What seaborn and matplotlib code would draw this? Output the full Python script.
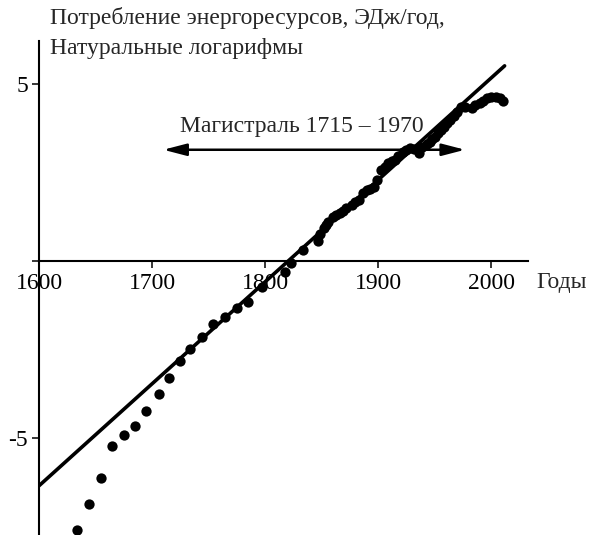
import matplotlib
matplotlib.use("Agg")
import matplotlib.pyplot as plt
import matplotlib.transforms as mtransforms
import pandas as pd
import seaborn as sns

# Données (log naturel de la consommation, EJ/an)
years = [1634, 1644, 1655, 1665, 1675, 1685, 1695, 1706, 1715, 1725,
         1734, 1744, 1754, 1765, 1775, 1785, 1797, 1818, 1823, 1834,
         1847, 1849, 1852, 1854, 1856, 1860, 1863, 1866, 1869, 1872,
         1877, 1880, 1883, 1887, 1890, 1893, 1896, 1899, 1903, 1906,
         1909, 1912, 1915, 1918, 1922, 1925, 1928, 1932, 1936, 1939,
         1943, 1946, 1948, 1950, 1953, 1956, 1958, 1961, 1964, 1967,
         1970, 1973, 1977, 1983, 1986, 1990, 1993, 1996, 2000, 2004,
         2008, 2011]
log_energy = [-7.61, -6.87, -6.15, -5.25, -4.92, -4.67, -4.24, -3.77, -3.32, -2.83,
              -2.50, -2.16, -1.79, -1.60, -1.34, -1.16, -0.75, -0.31, -0.07, 0.30,
              0.54, 0.75, 0.92, 1.00, 1.10, 1.24, 1.28, 1.34, 1.40, 1.48,
              1.57, 1.65, 1.72, 1.90, 2.00, 2.03, 2.09, 2.28, 2.56, 2.65,
              2.75, 2.80, 2.84, 2.95, 3.08, 3.12, 3.18, 3.15, 3.03, 3.22,
              3.30, 3.36, 3.43, 3.50, 3.60, 3.69, 3.78, 3.88, 3.98, 4.07,
              4.20, 4.35, 4.33, 4.31, 4.38, 4.45, 4.52, 4.59, 4.63, 4.63,
              4.60, 4.52]

# Droite de tendance (magistrale)
trend_years = [1600, 2012]
trend_values = [-6.36, 5.5]

x_ticks = [1600, 1700, 1800, 1900, 2000]
y_ticks = [-5, 0, 5]
y_tick_labels = ["-5", "", "5"]

df = pd.DataFrame({"year": years, "value": log_energy})
df_trend = pd.DataFrame({"year": trend_years, "value": trend_values})

sns.set_style("white")
plt.rcParams["font.family"] = ["Liberation Serif", "DejaVu Serif"]

fig = plt.figure(figsize=(5.9, 5.35), dpi=100)
ax = fig.add_axes([39 / 590, 0.0, 489 / 590, 1 - 40.7 / 535])

# 1. droite et points
sns.lineplot(ax=ax, data=df_trend, x="year", y="value", color="black", linewidth=2.6)
sns.scatterplot(ax=ax, data=df, x="year", y="value", color="black", s=55,
                edgecolor="black", linewidth=0, zorder=3, clip_on=False)

# 2. axes
ax.set_xlim(1600, 2032.7)
ax.set_ylim(-7.75, 6.21)
ax.spines["top"].set_visible(False)
ax.spines["right"].set_visible(False)
ax.spines["bottom"].set_position(("data", 0))
for sp in ["left", "bottom"]:
    ax.spines[sp].set_linewidth(1.5)
    ax.spines[sp].set_color("black")
ax.set_xticks(x_ticks)
ax.set_xticklabels([str(t) for t in x_ticks])
ax.set_yticks(y_ticks)
ax.set_yticklabels(y_tick_labels)
ax.tick_params(axis="both", direction="out", length=5, width=1.1, colors="black",
               labelsize=17, pad=3, bottom=True, left=True)
ax.tick_params(axis="x", pad=4)
ax.set_xlabel("")
ax.set_ylabel("")

# 3. flèche et libellés
ax.annotate("", xy=(1710, 3.13), xytext=(1977, 3.13),
            arrowprops=dict(arrowstyle="<|-|>,head_length=1.0,head_width=0.26",
                            mutation_scale=14, lw=1.8, color="black",
                            shrinkA=0, shrinkB=0))
ax.text(1832.7, 3.80, "Магистраль 1715 – 1970", ha="center", va="center", fontsize=17)

trans = mtransforms.blended_transform_factory(ax.transAxes, ax.transData)
ax.text(1.018, -0.63, "Годы", transform=trans, ha="left", va="center",
        fontsize=17, clip_on=False)

fig.text(50 / 590, 1 - 7 / 535, "Потребление энергоресурсов, ЭДж/год,\nНатуральные логарифмы",
         ha="left", va="top", fontsize=17, linespacing=1.55)

plt.savefig("out.png", dpi=100)
